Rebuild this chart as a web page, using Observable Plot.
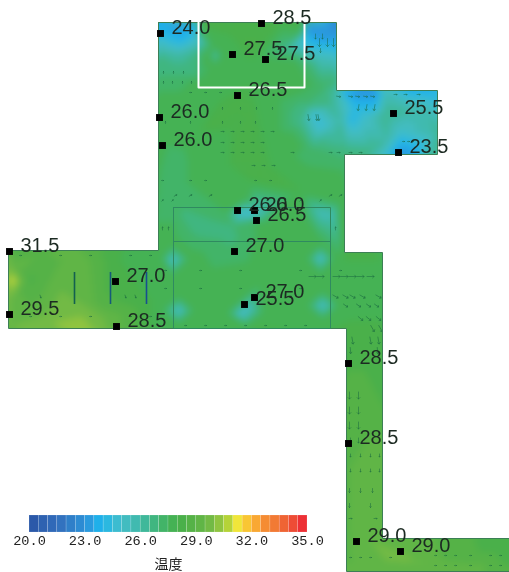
<!DOCTYPE html>
<html>
<head>
<meta charset="utf-8">
<script src="https://cdn.jsdelivr.net/npm/d3@7"></script>
<script src="https://cdn.jsdelivr.net/npm/@observablehq/plot@0.6"></script>
<style>
html,body{margin:0;padding:0;background:#fff;overflow:hidden}
#wrap{position:relative;width:509px;height:572px}
#wrap svg{position:absolute;left:0;filter:blur(0.45px);overflow:visible}
</style>
</head>
<body>
<div id="wrap"></div>
<script>
// Floor plan outline
const floorX = [158,336,336,437,437,344,344,382,382,509,509,346,346,8,8,158,158];
const floorY = [22,22,90,90,154,154,252,252,538,538,571,571,328,328,250,250,22];

// Temperature at sample positions
const fieldX = [160,175,190,197,165,180,196,160,178,196,160,180,196,
  200,230,250,280,302,200,250,302,230,270,210,214,205,222,214,214,250,285,295,250,300,200,
  306,320,335,306,320,335,320,335,308,335,320,
  160,180,220,280,300,335,345,360,375,375,355,350,365,340,385,410,430,385,430,410,437,400,385,385,400,415,430,345,370,
  315,320,300,305,330,330,280,310,342,
  160,160,175,175,200,230,260,290,200,230,250,270,300,342,
  180,230,200,240,248,258,225,232,270,245,320,330,300,275,
  172,160,190,172,172,178,160,195,178,178,245,240,225,265,245,320,305,335,320,320,322,305,340,322,322,260,300,200,250,340,
  345,380,380,350,
  10,10,18,10,10,10,30,40,60,70,30,60,78,85,100,90,120,150,110,150,
  348,380,348,380,365,380,348,348,382,370,350,400,420,450,500,480,505];
const fieldY = [24,24,24,24,40,40,40,55,58,52,75,75,75,
  22,22,22,22,22,25,25,25,35,35,55,55,55,55,45,66,60,48,60,85,85,85,
  24,24,24,40,40,40,58,60,65,80,85,
  100,100,100,100,100,95,92,92,92,105,105,118,118,120,92,92,92,115,115,110,130,130,140,152,152,152,152,152,150,
  115,125,120,104,104,130,130,150,170,
  130,170,160,200,130,130,130,140,165,165,180,165,190,200,
  215,235,225,212,212,212,212,225,222,198,212,212,212,230,
  260,258,258,243,276,310,310,310,295,325,310,315,312,312,325,258,258,258,243,275,305,305,305,290,320,280,290,290,325,325,
  260,260,320,320,
  255,280,280,265,300,325,280,255,260,250,310,320,322,305,300,260,260,300,320,325,
  340,340,400,400,440,470,470,520,500,540,565,560,545,560,545,565,565];
const fieldT = [23.5,23.2,23.5,24,24.5,24,25,26.5,26.3,26.5,27,27,27,
  28,28,28,28,28,28,28,28,28,28,27.5,25.5,27.8,27.8,27.8,27.8,28,26.5,27.5,28,28,28,
  23,23,22.7,24,23.5,23.5,25.5,25.5,27,27,27.2,
  27.8,27.8,28,27.5,27,26,23.5,23,23,24,24,24,25,26,25.5,24,24,26.5,26,26,26.2,25,26,25,23,23.5,26,26.8,26.6,
  24.5,24.5,26.5,27,26.5,25.8,27.5,27.2,27.5,
  27.8,27.5,27.2,27.2,28,28,28,28,27.8,28,28,28,28,28,
  27,26.8,26.6,25,24.5,25.5,27.5,27,28,27.8,25.5,25.5,27.8,28,
  25,27.8,27.8,27.8,27.8,25,27.8,27.8,27.8,27.8,25,25,27.8,27.8,27.8,25,27.8,27.8,27.8,27.8,25,27.8,27.8,27.8,27.8,28,28,28,28,28,
  28,28,28,28,
  28.5,31.5,30,29.5,29.5,29.5,28.4,28.9,29,29.3,29.1,30,30.3,29.5,28.7,29,28,28,29.4,28,
  28.3,28.3,28.7,28.5,29,29.5,29,29,29.5,29.5,29,29.7,29.2,28.9,28.2,29.1,28.5];

// Colour legend
const cellStart = [20,20.5,21,21.5,22,22.5,23,23.5,24,24.5,25,25.5,26,26.5,27,27.5,28,28.5,29,29.5,30,30.5,31,31.5,32,32.5,33,33.5,34,34.5];
const cellColor = ["#2b59a9","#2e62b1","#3069b8","#3272bf","#2f7fc9","#2d8bd3","#2a9ade","#1fb0ea","#2bb8e0","#3cbcd0","#42bcc0","#40bab0","#3fb89a","#40b680","#42b468","#45b254","#4ab04a","#55b247","#60b546","#72ba45","#8fc440","#b5d338","#f0e63a","#f9c634","#f9a833","#f58c33","#f27a34","#ef6434","#ee4c35","#ed3035"];
const legendTicks = [20,23,26,29,32,35];

// Sensors
const sensorX = [160,261,232,265,237,159,162,393,398,237,254,256,234,115,9,9,116,254,244,348,348,356,400];
const sensorY = [33,23,54,59,95,117,145,113,152,210,210,220,251,281,251,314,326,297,304,363,443,541,551];
const sensorT = [24,28.5,27.5,27.5,26.5,26,26,25.5,23.5,26,26,26.5,27,27,31.5,29.5,28.5,27,25.5,28.5,28.5,29,29];

// Airflow marks: [y, x positions, length, rotation]
const arrowRows = [
  [72,[163,173,183],2,0],[82,[163,172,182,191],2,0],[92,[190,205,220,235,250],2,90],
  [108,[222,240,256,272],2,0],[122,[165,190,222,240,255],2,0],[131,[222,232,242,252,262,272],3,90],
  [142,[222,232,242,252,262],3,90],[152,[222,232,242,252,262,292],3,90],[152,[330,338,350,360],3,90],
  [165,[253,263,273],3,90],[180,[162,190,205,255,270],2,90],[195,[175,190,210,330,340],3,60],
  [200,[162,172,300,320],2,45],[228,[162,168,335],3,0],[270,[165,200,240,300,340],2,90],
  [288,[165,200,240,300],2,90],[325,[185,205,225,245,265,285,305],2,90],[255,[20,60,90,130,150],2,90],
  [316,[30,60,90,130,150],2,90],[296,[40,125,135],3,160],
  [36,[315,322],5,180],[42,[319,327,333],8,180],[50,[306,320],4,180],
  [96,[338,350,357,365,372],4,100],[107,[358,366,374],6,190],[117,[308,316,318],6,170],
  [94,[395,405,418],3,90],[141,[403,408,412],2,90],
  [276,[312,320,336,344,352,360,370],7,90],[296,[335,345,352,362,378],6,120],
  [305,[345,358,368,376],5,125],[318,[360,368,378],6,130],[328,[372,380],7,150],
  [340,[352,370,378],7,170],[350,[350,377],6,175],
  [395,[349,358],7,180],[410,[349,358],7,180],[425,[349,358],7,180],[440,[350,358],5,180],
  [455,[350,360,370,379],3,180],[470,[350,360,370,379],3,180],[490,[349,360,372],4,180],[505,[349,370],4,180],
  [518,[350,375],3,90],[557,[350,360,370,390],2,90],[555,[435,445,455,470,490,500],2,90],[565,[435,445,455,470,490,500],2,90]
];

// Room details
const roomX = [173,330,330,173,173];
const roomY = [207,207,328,328,207];
const roomLineX = [173,330];
const roomLineY = [241,241];
const boxX = [198,198,304,304];
const boxY = [22,87,87,22];
const baffleX = [74,110,146];
const baffleY1 = [272,272,272];
const baffleY2 = [304,304,304];
const baffleColor = ["#13604f","#155a7a","#174f90"];

const field = fieldX.map((x,i)=>({x,y:fieldY[i],t:fieldT[i]}));
const sensors = sensorX.map((x,i)=>({x,y:sensorY[i],t:sensorT[i]}));
const floor = floorX.map((x,i)=>({x,y:floorY[i]}));
const maskOuter = [[0,0],[509,0],[509,572],[0,572],[0,0]];
const mask = [...maskOuter,...floor.slice().reverse().map(d=>[d.x,d.y]),[0,0]].map(([x,y])=>({x,y}));
const arrows = arrowRows.flatMap(([y,xs,len,rot])=>xs.map(x=>({x,y,len,rot})));
const thresholds = cellStart.slice(1);

const main = Plot.plot({
  width:509,height:572,margin:0,
  x:{domain:[0,509],axis:null},
  y:{domain:[572,0],axis:null},
  length:{type:"identity"},
  color:{type:"threshold",domain:thresholds,range:cellColor},
  marks:[
    Plot.raster(field,{x:"x",y:"y",fill:"t",interpolate:"barycentric",pixelSize:1,blur:3,x1:8,x2:509,y1:22,y2:571}),
    Plot.vector(arrows,{x:"x",y:"y",length:"len",rotate:"rot",anchor:"middle",stroke:"#17663f",strokeWidth:0.7,strokeOpacity:0.7}),
    Plot.line(mask,{x:"x",y:"y",fill:"white",stroke:"none"}),
    Plot.line(floor,{x:"x",y:"y",stroke:"#3c7f55",strokeWidth:1}),
    Plot.line(roomX.map((x,i)=>({x,y:roomY[i]})),{x:"x",y:"y",stroke:"#2f8a60",strokeWidth:1}),
    Plot.line(roomLineX.map((x,i)=>({x,y:roomLineY[i]})),{x:"x",y:"y",stroke:"#2f8a60",strokeWidth:1}),
    Plot.line(boxX.map((x,i)=>({x,y:boxY[i]})),{x:"x",y:"y",stroke:"#fff",strokeWidth:2}),
    Plot.ruleX(baffleX.map((x,i)=>({x,y1:baffleY1[i],y2:baffleY2[i],c:baffleColor[i]})),{x:"x",y1:"y1",y2:"y2",stroke:"c",strokeWidth:1.6}),
    Plot.dot(sensors,{x:"x",y:"y",symbol:"square",r:3.9,fill:"#000",stroke:"none"}),
    Plot.text(sensors,{x:"x",y:"y",text:d=>d.t.toFixed(1),textAnchor:"start",dx:11,dy:-6,fontSize:20,fontFamily:"Liberation Sans",fill:"#1c2a22"})
  ]
});
main.style.top="0";

const legend = Plot.plot({
  width:509,height:62,
  marginTop:5,marginBottom:40,marginLeft:29,marginRight:202,
  x:{domain:[20,35]},
  y:{axis:null,domain:[0,1]},
  marks:[
    Plot.rect(cellStart,{x1:d=>d,x2:d=>d+0.5,y1:0,y2:1,fill:(d,i)=>cellColor[i],stroke:"#fff",strokeOpacity:0.3,strokeWidth:0.5}),
    Plot.axisX({ticks:legendTicks,tickFormat:d=>d.toFixed(1),tickSize:0,tickPadding:3,label:null,fontSize:13.6,fontFamily:"Liberation Mono",fill:"#222"}),
    Plot.text(["温度"],{x:27.5,frameAnchor:"bottom",dy:36,fontSize:14,fontFamily:"Noto Sans CJK JP",fill:"#222"})
  ]
});
legend.style.top="510px";

const wrap=document.getElementById("wrap");
wrap.append(main,legend);
</script>
</body>
</html>
